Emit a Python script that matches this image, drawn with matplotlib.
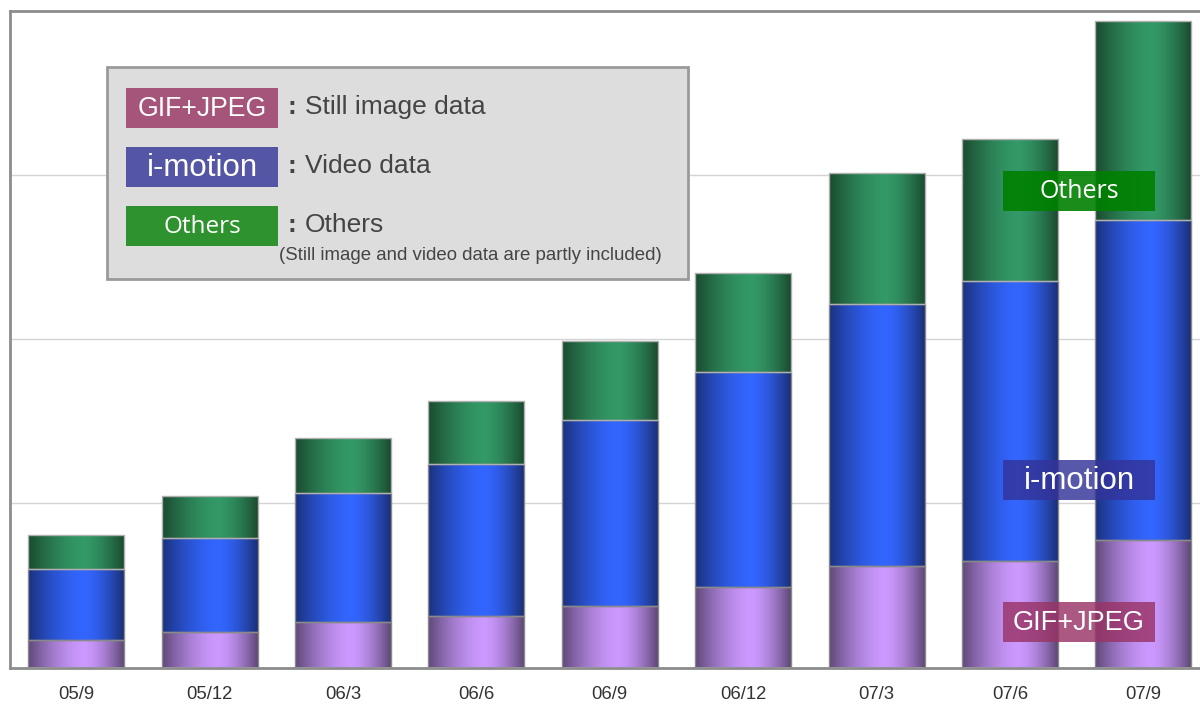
import numpy as np
import matplotlib
matplotlib.use("Agg")
import matplotlib.pyplot as plt
from matplotlib.colors import to_rgb
from matplotlib.patches import Rectangle

plt.rcParams['font.family'] = ['Liberation Sans', 'DejaVu Sans']

# ---- data ----
categories = ["05/9", "05/12", "06/3", "06/6", "06/9", "06/12", "07/3", "07/6", "07/9"]
gif_jpeg = [0.167, 0.214, 0.279, 0.312, 0.375, 0.488, 0.618, 0.649, 0.777]
i_motion = [0.431, 0.576, 0.782, 0.926, 1.133, 1.309, 1.596, 1.705, 1.949]
others = [0.209, 0.256, 0.335, 0.384, 0.479, 0.603, 0.796, 0.865, 1.210]
series_names = ["GIF+JPEG", "i-motion", "Others"]
legend_desc = ["Still image data", "Video data", "Others"]
legend_note = "(Still image and video data are partly included)"

W, H = 1200, 704
fig = plt.figure(figsize=(W / 100, H / 100), dpi=100)
fig.patch.set_facecolor("white")


def fx(px):
    return px / W


def fy(py):
    return 1 - py / H


ax_left, ax_right, ax_top, ax_bottom = 9.5, 1210.0, 10.5, 667.5
ax = fig.add_axes([fx(ax_left), fy(ax_bottom), fx(ax_right - ax_left), (ax_bottom - ax_top) / H])
ax.set_facecolor("white")

x = np.arange(len(categories))
bw = 0.72

grad_colors = {
    "GIF+JPEG": ("#5e4878", "#cc99ff", "#5a4470"),
    "i-motion": ("#1a317d", "#3366ff", "#1a2d70"),
    "Others": ("#1a4a2f", "#339966", "#19472d"),
}


def gradient_img(left, peak, right, n=200):
    t = np.linspace(0, 1, n)
    p = 0.58
    f = np.where(t < p, 1 - ((p - t) / p) ** 1.6, 1 - ((t - p) / (1 - p)) ** 1.6)
    f = np.clip(f, 0, 1)
    L, P, R = np.array(to_rgb(left)), np.array(to_rgb(peak)), np.array(to_rgb(right))
    img = np.zeros((1, n, 3))
    for i in range(n):
        edge = L if t[i] < p else R
        img[0, i] = edge + (P - edge) * f[i]
    return img


bottoms = np.zeros(len(categories))
edge_cols = {"GIF+JPEG": "#8a8a8a", "i-motion": "#8a8a8a", "Others": "#b0b0b0"}
for name, vals in zip(series_names, [gif_jpeg, i_motion, others]):
    bars = ax.bar(x, vals, bw, bottom=bottoms, facecolor="none",
                  edgecolor=edge_cols[name], linewidth=1.0, zorder=3)
    img = gradient_img(*grad_colors[name])
    for rect in bars.patches:
        x0, y0 = rect.get_x(), rect.get_y()
        im = ax.imshow(img, extent=(x0, x0 + rect.get_width(), y0, y0 + rect.get_height()),
                       aspect="auto", interpolation="bilinear", zorder=2)
        im.set_clip_path(rect)
    bottoms = bottoms + np.array(vals)

ax.set_xlim(-0.5, len(categories) - 0.5)
ax.set_ylim(0, 4)
ax.set_yticks([1, 2, 3])
ax.set_yticklabels([])
ax.yaxis.grid(True, color="#d4d4d4", linewidth=1.0, zorder=0)
ax.set_axisbelow(True)
ax.tick_params(axis="y", length=0)
ax.set_xticks(x)
ax.set_xticklabels(categories, fontsize=13.3, color="#333333")
ax.tick_params(axis="x", length=0, pad=13.5)
for s in ["left", "top", "bottom"]:
    ax.spines[s].set_color("#8c8c8c")
    ax.spines[s].set_linewidth(2)
ax.spines["right"].set_visible(False)

# ---- legend panel ----
fig.patches.append(Rectangle((fx(107), fy(279)), fx(688 - 107), (279 - 67) / H,
                             transform=fig.transFigure, facecolor="#dddddd",
                             edgecolor="#9a9a9a", linewidth=2, zorder=5))
box_cols = ["#a5557a", "#5555a5", "#2e922e"]
box_sizes = [19.2, 22.5, 17.5]
box_tops = [88, 147, 206]
for name, desc, col, fs, top in zip(series_names, legend_desc, box_cols, box_sizes, box_tops):
    fig.patches.append(Rectangle((fx(126), fy(top + 40)), fx(152), 40 / H,
                                 transform=fig.transFigure, facecolor=col,
                                 edgecolor="none", zorder=6))
    fig.text(fx(202), fy(top + 21), name, color="white", fontsize=fs,
             ha="center", va="center", zorder=7,
             family=["Open Sans", "DejaVu Sans"] if name == "Others" else None)
    fig.text(fx(292), fy(top + 19), ":", color="#444444", fontsize=19,
             ha="center", va="center", zorder=7, fontweight="bold")
    fig.text(fx(305), fy(top + 19), desc, color="#444444", fontsize=19,
             ha="left", va="center", zorder=7)
fig.text(fx(279), fy(255), legend_note, color="#444444", fontsize=13.4,
         ha="left", va="center", zorder=7)

# ---- on-chart labels ----
lab_cols = [("#993366", 0.82), ("#333399", 0.82), ("#008000", 0.9)]
lab_tops = [602, 460, 171]
lab_sizes = [19.5, 22.5, 18]
for name, (col, a), top, fs in zip(series_names, lab_cols, lab_tops, lab_sizes):
    fig.patches.append(Rectangle((fx(1003), fy(top + 40)), fx(152), 40 / H,
                                 transform=fig.transFigure, facecolor=col, alpha=a,
                                 edgecolor="none", zorder=6))
    fig.text(fx(1079), fy(top + 21), name, color="white", fontsize=fs,
             ha="center", va="center", zorder=7,
             family=["Open Sans", "DejaVu Sans"] if name == "Others" else None)

fig.savefig("out.png", dpi=100)
